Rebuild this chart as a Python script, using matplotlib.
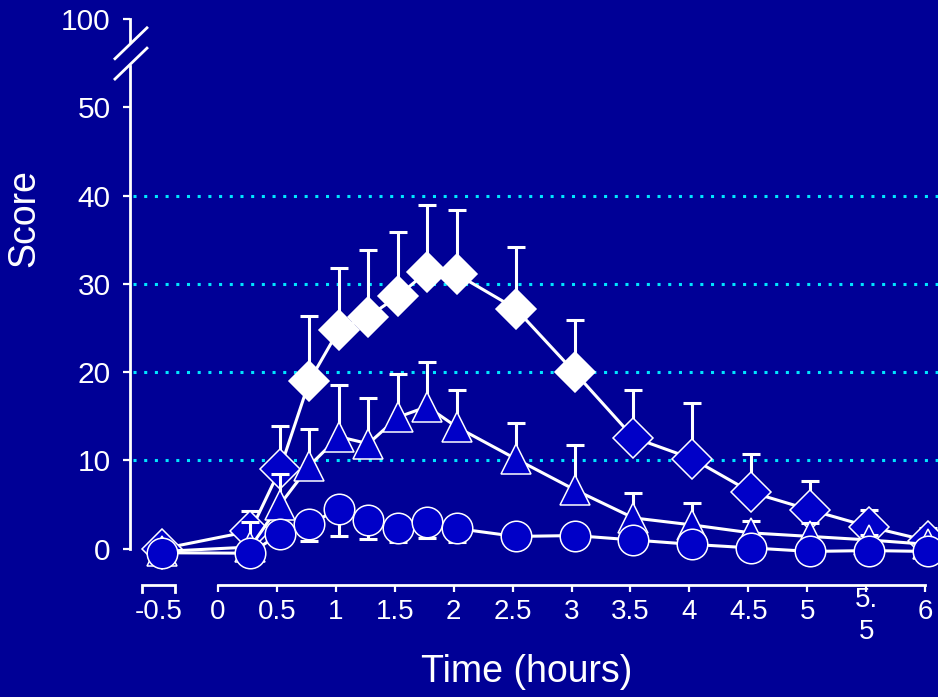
import numpy as np
import matplotlib
matplotlib.use("Agg")
import matplotlib.pyplot as plt
import matplotlib.transforms as mtransforms

plt.rcParams['font.family'] = ['Liberation Sans', 'DejaVu Sans']

bg = "#000096"
fill = "#0000C8"
grid_col = "#00E5FF"

# data (score vs time in hours)
times = [-0.5, 0.25, 0.5, 0.75, 1, 1.25, 1.5, 1.75, 2, 2.5, 3, 3.5, 4, 4.5, 5, 5.5, 6]

diamond_mean = [0.0, 2.0, 9.0, 19.0, 24.8, 26.3, 28.6, 31.4, 31.1, 27.2, 20.0, 12.6, 10.2, 6.4, 4.4, 2.5, 0.9]
diamond_upper = [0.0, 4.3, 13.9, 26.4, 31.8, 33.8, 35.9, 38.9, 38.4, 34.2, 25.9, 18.0, 16.5, 10.7, 7.7, 4.4, 2.3]
diamond_sig = [False, False, False, True, True, True, True, True, True, True, True,
               False, False, False, False, False, False]

triangle_mean = [-0.3, 0.2, 5.0, 9.4, 12.7, 11.9, 14.9, 16.1, 13.8, 10.2, 6.7, 3.5, 2.7, 1.8, 1.4, 1.0, 0.5]
triangle_upper = [-0.3, 3.0, 8.5, 13.6, 18.5, 17.1, 19.8, 21.2, 18.0, 14.3, 11.7, 6.3, 5.2, 3.2, 2.9, 1.6, 0.9]

circle_mean = [-0.45, -0.5, 1.7, 2.8, 4.5, 3.3, 2.3, 3.0, 2.3, 1.4, 1.5, 1.0, 0.5, 0.1, -0.3, -0.2, -0.3]
circle_lower = [-0.45, -0.5, 0.7, 0.9, 1.5, 1.1, 0.8, 1.2, 0.8, 1.0, 1.1, 0.6, 0.1, -0.3, -0.7, -0.6, -0.7]

grid_levels = [10, 20, 30, 40]
y_ticks = [0, 10, 20, 30, 40, 50, 60]
y_ticklabels = ["0", "10", "20", "30", "40", "50", "100"]
x_ticks = [-0.5, 0, 0.5, 1, 1.5, 2, 2.5, 3, 3.5, 4, 4.5, 5, 5.5, 6]
x_ticklabels = ["-0.5", "0", "0.5", "1", "1.5", "2", "2.5", "3", "3.5", "4", "4.5", "5", "", "6"]

fig = plt.figure(figsize=(9.38, 6.97), dpi=100, facecolor=bg)
ax = fig.add_axes([130/938, 112/697, 808/938, 566/697], facecolor=bg)
ax.set_xlim(-0.747, 6.110)
ax.set_ylim(-4.1, 60)

t = np.array(times)
# markers sit a few pixels right of the ticks in the original
shift = ax.transData + mtransforms.ScaledTranslation(0.03, 0, fig.dpi_scale_trans)

for lvl in grid_levels:
    ax.axhline(lvl, xmin=0.004, xmax=1, color=grid_col, lw=2.2,
               linestyle=(0, (1, 2.5)), zorder=1)


def draw_series(mean, other, marker, ms, z, up=True, face=None):
    mean = np.array(mean)
    other = np.array(other)
    err = np.abs(other - mean)
    zeros = np.zeros_like(err)
    yerr = [zeros, err] if up else [err, zeros]
    _, caps, bars = ax.errorbar(t, mean, yerr=yerr, fmt='none', ecolor='white',
                                elinewidth=2.2, capsize=6.5, capthick=2.2, zorder=z)
    caps[0 if up else 1].set_visible(False)
    artists = list(caps) + list(bars)
    artists += ax.plot(t, mean, color='white', lw=2.2, zorder=z + 0.1)
    if face is None:
        face = [False] * len(t)
    face = np.array(face)
    artists += ax.plot(t[~face], mean[~face], linestyle='none', marker=marker, ms=ms,
                       mfc=fill, mec='white', mew=1.1, zorder=z + 0.2)
    if face.any():
        artists += ax.plot(t[face], mean[face], linestyle='none', marker=marker, ms=ms,
                           mfc='white', mec='white', mew=1.1, zorder=z + 0.2)
    for a in artists:
        a.set_transform(shift)


draw_series(diamond_mean, diamond_upper, 'D', 20.5, 3, up=True, face=diamond_sig)
draw_series(triangle_mean, triangle_upper, '^', 21.5, 4, up=True)
draw_series(circle_mean, circle_lower, 'o', 22, 5, up=False)

# spines
for s in ['top', 'right']:
    ax.spines[s].set_visible(False)
ax.spines['left'].set_color('white')
ax.spines['left'].set_linewidth(2)
ax.spines['left'].set_bounds(0, 54.7)
ax.spines['bottom'].set_color('white')
ax.spines['bottom'].set_linewidth(2)
ax.spines['bottom'].set_bounds(0, 6)

ytr = ax.get_yaxis_transform()
ax.plot([0, 0], [57.4, 60], color='white', lw=2, transform=ytr, clip_on=False)
ax.plot([-0.0186, 0.021], [55.5, 59.0], color='white', lw=2, transform=ytr, clip_on=False)
ax.plot([-0.0186, 0.021], [53.2, 56.7], color='white', lw=2, transform=ytr, clip_on=False)

xtr = ax.get_xaxis_transform()
tk = 7 / 566
ax.plot([-0.645, -0.645, -0.365, -0.365], [-tk, 0, 0, -tk], color='white', lw=2,
        transform=xtr, clip_on=False, solid_joinstyle='miter')

ax.set_yticks(y_ticks)
ax.set_yticklabels(y_ticklabels)
ax.set_xticks(x_ticks)
ax.set_xticklabels(x_ticklabels)
ax.tick_params(axis='y', colors='white', direction='out', length=5, width=1.6,
               labelsize=21.5, pad=9)
ax.tick_params(axis='x', colors='white', direction='out', length=5, width=1.6,
               labelsize=20, pad=5)
ax.xaxis.get_major_ticks()[0].tick1line.set_visible(False)

ax.text(5.5, -0.0548, "5.\n5", transform=xtr, ha='center', va='center',
        fontsize=20, color='white', linespacing=1.3)

fig.text(527/938, 1 - 672/697, "Time (hours)", ha='center', va='center',
         fontsize=27, color='white')
fig.text(24/938, 1 - 218/697, "Score", ha='center', va='center', rotation=90,
         fontsize=27, color='white')

fig.savefig("out.png", dpi=100, facecolor=bg)
